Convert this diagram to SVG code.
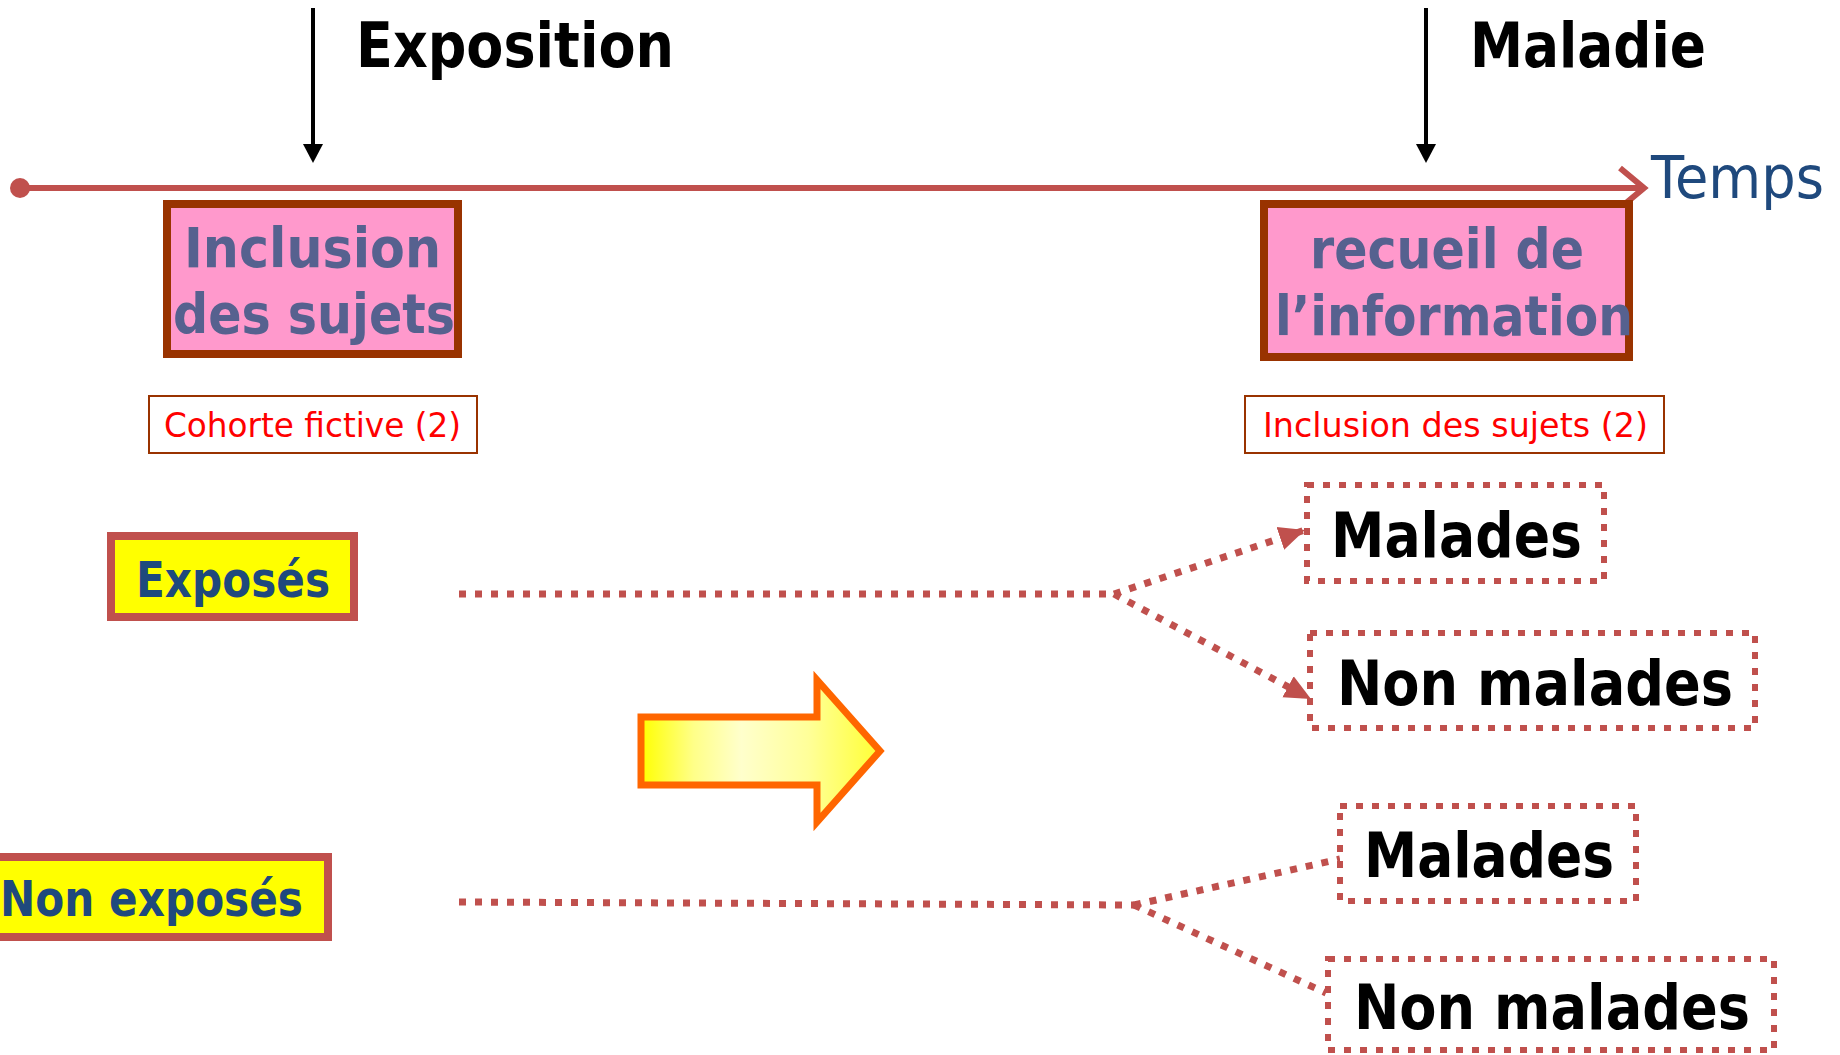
<svg xmlns="http://www.w3.org/2000/svg" width="1840" height="1055" viewBox="0 0 1840 1055">
<style>
.bold{font-family:"DejaVu Sans","Liberation Sans",sans-serif;font-weight:bold}
.reg{font-family:"DejaVu Sans","Liberation Sans",sans-serif}
.dot{fill:none;stroke:#C0504D;stroke-width:7;stroke-dasharray:7 9}
.dbox{fill:#FFFFFF;stroke:#C0504D;stroke-width:6;stroke-dasharray:7 9}
.pink{fill:#FF99CC;stroke:#993300;stroke-width:8}
.yel{fill:#FFFF00;stroke:#C0504D;stroke-width:8}
.note{fill:#FFFFFF;stroke:#993300;stroke-width:2}
.pt{fill:#56618F;font-size:55px}
.rt{fill:#FF0000;font-size:34px}
.yt{fill:#1F497D;font-size:49px}
.mt{fill:#000000;font-size:63px}
</style>
<defs>
<linearGradient id="ag" x1="0" y1="0" x2="1" y2="0">
<stop offset="0" stop-color="#FFFF00"/>
<stop offset="0.22" stop-color="#FFFF88"/>
<stop offset="0.42" stop-color="#FFFFCC"/>
<stop offset="0.7" stop-color="#FFFF99"/>
<stop offset="1" stop-color="#FFFF33"/>
</linearGradient>
<marker id="ah" markerUnits="userSpaceOnUse" markerWidth="28" markerHeight="28" viewBox="0 0 28 28" refX="26" refY="14" orient="auto">
<path d="M0 2 L26 14 L0 26 Z" fill="#C0504D"/>
</marker>
</defs>

<g id="timeline">
<line x1="20" y1="188" x2="1642" y2="188" stroke="#C0504D" stroke-width="6"/>
<circle cx="20" cy="188" r="10" fill="#C0504D"/>
<polyline points="1620,168 1644,188 1620,208" fill="none" stroke="#C0504D" stroke-width="6"/>
<text x="1651" y="198" class="reg" font-size="59" fill="#1F497D" textLength="173" lengthAdjust="spacingAndGlyphs">Temps</text>
</g>

<g id="exposition">
<line x1="313" y1="8" x2="313" y2="146" stroke="#000" stroke-width="4"/>
<polygon points="303,144 323,144 313,163" fill="#000"/>
<text x="356" y="67" class="bold" font-size="62" fill="#000" textLength="318" lengthAdjust="spacingAndGlyphs">Exposition</text>
</g>

<g id="maladie">
<line x1="1426" y1="8" x2="1426" y2="146" stroke="#000" stroke-width="4"/>
<polygon points="1416,144 1436,144 1426,163" fill="#000"/>
<text x="1470" y="67" class="bold" font-size="62" fill="#000" textLength="236" lengthAdjust="spacingAndGlyphs">Maladie</text>
</g>

<g id="inclusion">
<rect x="167" y="204" width="291" height="150" class="pink"/>
<text x="184" y="267" class="bold pt" textLength="257" lengthAdjust="spacingAndGlyphs">Inclusion</text>
<text x="173" y="333" class="bold pt" textLength="282" lengthAdjust="spacingAndGlyphs">des sujets</text>
</g>

<g id="recueil">
<rect x="1264" y="204" width="365" height="153" class="pink"/>
<text x="1310" y="268" class="bold pt" textLength="274" lengthAdjust="spacingAndGlyphs">recueil de</text>
<text x="1275" y="335" class="bold pt" textLength="358" lengthAdjust="spacingAndGlyphs">l’information</text>
</g>

<g id="cohorte">
<rect x="149" y="396" width="328" height="57" class="note"/>
<text x="164" y="437" class="reg rt" textLength="297" lengthAdjust="spacingAndGlyphs">Cohorte fictive (2)</text>
</g>

<g id="inclusion2">
<rect x="1245" y="396" width="419" height="57" class="note"/>
<text x="1263" y="437" class="reg rt" textLength="385" lengthAdjust="spacingAndGlyphs">Inclusion des sujets (2)</text>
</g>

<g id="exposes">
<rect x="111" y="536" width="243" height="81" class="yel"/>
<text x="136" y="597" class="bold yt" textLength="194" lengthAdjust="spacingAndGlyphs">Exposés</text>
</g>

<g id="non-exposes">
<rect x="-20" y="857" width="348" height="80" class="yel"/>
<text x="0" y="916" class="bold yt" textLength="303" lengthAdjust="spacingAndGlyphs">Non exposés</text>
</g>

<g id="block-arrow">
<path d="M641 717 L817 717 L817 680 L880 751 L817 822 L817 785 L641 785 Z" fill="url(#ag)" stroke="#FF6600" stroke-width="7"/>
</g>

<g id="connectors">
<path class="dot" d="M459 594 L1114 594"/>
<path class="dot" d="M1114 594 L1305 530" marker-end="url(#ah)"/>
<path class="dot" d="M1114 594 L1311 699" marker-end="url(#ah)"/>
<path class="dot" d="M459 902 L1134 905"/>
<path class="dot" d="M1134 905 L1340 859"/>
<path class="dot" d="M1134 905 L1326 993"/>
</g>

<g id="malades1">
<rect x="1307" y="485" width="297" height="96" class="dbox"/>
<text x="1331" y="557" class="bold mt" textLength="251" lengthAdjust="spacingAndGlyphs">Malades</text>
</g>

<g id="non-malades1">
<rect x="1310" y="633" width="445" height="95" class="dbox"/>
<text x="1337" y="705" class="bold mt" textLength="396" lengthAdjust="spacingAndGlyphs">Non malades</text>
</g>

<g id="malades2">
<rect x="1340" y="806" width="296" height="95" class="dbox"/>
<text x="1364" y="877" class="bold mt" textLength="250" lengthAdjust="spacingAndGlyphs">Malades</text>
</g>

<g id="non-malades2">
<rect x="1328" y="959" width="446" height="91" class="dbox"/>
<text x="1354" y="1029" class="bold mt" textLength="396" lengthAdjust="spacingAndGlyphs">Non malades</text>
</g>
</svg>
